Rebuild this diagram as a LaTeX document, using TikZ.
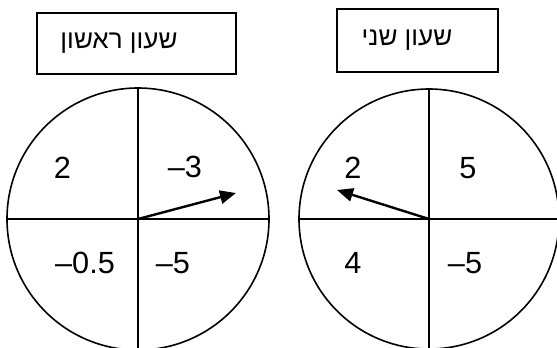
\documentclass[tikz,border=0pt]{standalone}
\usepackage{fontspec}
\setmainfont{Liberation Sans}
\newfontfamily\hebfont[Script=Hebrew]{Liberation Sans}
\TeXXeTstate=1
\usetikzlibrary{arrows.meta}

\begin{document}
\begin{tikzpicture}[x=0.75pt,y=-0.75pt,
    dial/.style={circle,draw,line width=1.2pt,inner sep=0pt},
    titlebox/.style={draw,line width=1.2pt,inner sep=0pt},
    val/.style={font=\fontsize{23}{27}\selectfont},
    heb/.style={font=\fontsize{19.5}{23}\selectfont\hebfont},
    hand/.style={line width=1.8pt,-{Triangle[length=12pt,width=10pt]}}]
        \useasboundingbox (0,0) rectangle (557,347);
        \clip (0,0) rectangle (557,347);
        % first clock
        \node[titlebox,minimum width=149.25pt,minimum height=45.75pt] (box1) at (136.5,43.5) {};
        \node[heb] (title1) at (119,43) {\beginR שעון ראשון\endR};
        \node[dial,minimum size=196.5pt] (c1) at (138,219) {};
        \draw[line width=1.2pt] (c1.north) -- ([yshift=-3pt]c1.south);
        \draw[line width=1.2pt] (c1.west) -- (c1.east);
        \node[val] (a1) at (62.5,168) {2};
        \node[val] (b1) at (185,167) {–3};
        \node[val] (d1) at (85,263) {–0.5};
        \node[val] (e1) at (173,263) {–5};
        \coordinate (tip1) at (236,193);
        \draw[hand] (c1.center) -- (tip1);
        % second clock
        \node[titlebox,minimum width=120.75pt,minimum height=47.25pt] (box2) at (417.5,40.5) {};
        \node[heb] (title2) at (407,40) {\beginR שעון שני\endR};
        \node[dial,minimum size=195pt] (c2) at (429,219) {};
        \draw[line width=1.2pt] (c2.north) -- ([yshift=-3pt]c2.south);
        \draw[line width=1.2pt] (c2.west) -- (c2.east);
        \node[val] (a2) at (353,168) {2};
        \node[val] (b2) at (468,168) {5};
        \node[val] (d2) at (353,263) {4};
        \node[val] (e2) at (465,263) {–5};
        \coordinate (tip2) at (337,190);
        \draw[hand] (c2.center) -- (tip2);
\end{tikzpicture}
\end{document}
